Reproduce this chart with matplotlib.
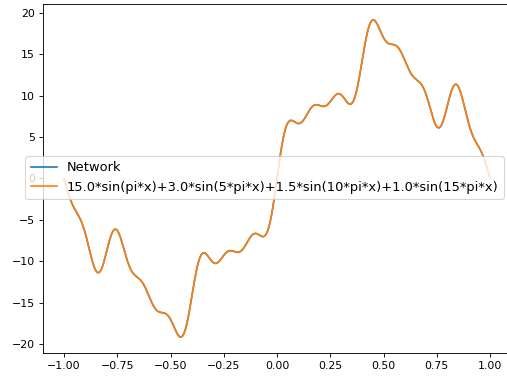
import matplotlib
matplotlib.use("Agg")
import matplotlib.pyplot as plt
import numpy as np

# amplitudes and frequencies of the sine terms (multiples of pi)
amplitudes = [15.0, 3.0, 1.5, 1.0]
frequencies = [1, 5, 10, 15]
x_range = [-1.0, 1.0]


def target(x):
    return sum(a * np.sin(k * np.pi * x) for a, k in zip(amplitudes, frequencies))


x = np.linspace(x_range[0], x_range[1], 1000)
y_true = target(x)
y_net = target(x)  # network output sits right on the target

label = "+".join(f"{a:.1f}*sin({'' if k == 1 else str(k) + '*'}pi*x)"
                 for a, k in zip(amplitudes, frequencies))

dpi = 79.2
fig = plt.figure(figsize=(507 / dpi, 381 / dpi), dpi=dpi)
ax = fig.add_axes([42.7 / 507, 28 / 381, 468.6 / 507, 349 / 381])

ax.plot(x, y_net, label="Network")
ax.plot(x, y_true, label=label)

ax.legend(loc="center left", bbox_to_anchor=(19 / 507, 1 - 177.5 / 381),
          bbox_transform=fig.transFigure, fontsize=11.8)

fig.savefig("out.png", dpi=dpi)
